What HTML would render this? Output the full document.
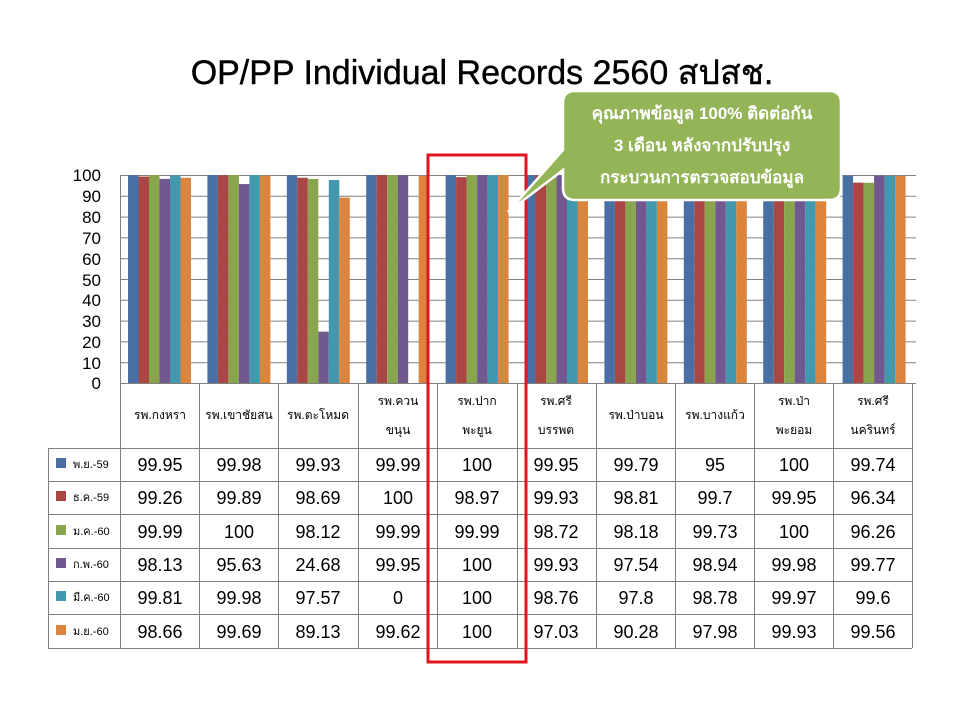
<!DOCTYPE html>
<html><head><meta charset="utf-8"><style>
html,body{margin:0;padding:0;background:#fff;}
svg{display:block;font-family:"Liberation Sans","DejaVu Sans",sans-serif;}
</style></head><body>
<svg width="960" height="720" viewBox="0 0 960 720" xmlns="http://www.w3.org/2000/svg">
<rect width="960" height="720" fill="#fff"/>
<text x="482" y="84" font-size="34" text-anchor="middle" fill="#000" stroke="#000" stroke-width="0.4">OP/PP Individual Records 2560 สปสช.</text>
<g stroke="#808080" stroke-width="1">
<line x1="120" y1="175.5" x2="916" y2="175.5"/>
<line x1="120" y1="196.3" x2="916" y2="196.3"/>
<line x1="120" y1="217.1" x2="916" y2="217.1"/>
<line x1="120" y1="237.9" x2="916" y2="237.9"/>
<line x1="120" y1="258.7" x2="916" y2="258.7"/>
<line x1="120" y1="279.5" x2="916" y2="279.5"/>
<line x1="120" y1="300.3" x2="916" y2="300.3"/>
<line x1="120" y1="321.1" x2="916" y2="321.1"/>
<line x1="120" y1="341.9" x2="916" y2="341.9"/>
<line x1="120" y1="362.7" x2="916" y2="362.7"/>
<line x1="120.5" y1="175" x2="120.5" y2="383"/>
</g>
<g font-size="17" text-anchor="end" fill="#000">
<text x="101" y="181">100</text><text x="101" y="202">90</text><text x="101" y="223">80</text><text x="101" y="244">70</text><text x="101" y="265">60</text><text x="101" y="286">50</text><text x="101" y="306">40</text><text x="101" y="327">30</text><text x="101" y="348">20</text><text x="101" y="369">10</text><text x="101" y="389">0</text>
</g>
<g transform="translate(0,383) scale(1,-2.08)">
<g transform="translate(120,0)"><rect x="8" width="10.5" height="99.95" fill="#4A6FA5"/><rect x="18.5" width="10.5" height="99.26" fill="#AA4643"/><rect x="29" width="10.5" height="99.99" fill="#89A54E"/><rect x="39.5" width="10.5" height="98.13" fill="#71588F"/><rect x="50" width="10.5" height="99.81" fill="#4198AF"/><rect x="60.5" width="10.5" height="98.66" fill="#DB843D"/></g>
<g transform="translate(199.4,0)"><rect x="8" width="10.5" height="99.98" fill="#4A6FA5"/><rect x="18.5" width="10.5" height="99.89" fill="#AA4643"/><rect x="29" width="10.5" height="100" fill="#89A54E"/><rect x="39.5" width="10.5" height="95.63" fill="#71588F"/><rect x="50" width="10.5" height="99.98" fill="#4198AF"/><rect x="60.5" width="10.5" height="99.69" fill="#DB843D"/></g>
<g transform="translate(278.8,0)"><rect x="8" width="10.5" height="99.93" fill="#4A6FA5"/><rect x="18.5" width="10.5" height="98.69" fill="#AA4643"/><rect x="29" width="10.5" height="98.12" fill="#89A54E"/><rect x="39.5" width="10.5" height="24.68" fill="#71588F"/><rect x="50" width="10.5" height="97.57" fill="#4198AF"/><rect x="60.5" width="10.5" height="89.13" fill="#DB843D"/></g>
<g transform="translate(358.2,0)"><rect x="8" width="10.5" height="99.99" fill="#4A6FA5"/><rect x="18.5" width="10.5" height="100" fill="#AA4643"/><rect x="29" width="10.5" height="99.99" fill="#89A54E"/><rect x="39.5" width="10.5" height="99.95" fill="#71588F"/><rect x="60.5" width="10.5" height="99.62" fill="#DB843D"/></g>
<g transform="translate(437.6,0)"><rect x="8" width="10.5" height="100" fill="#4A6FA5"/><rect x="18.5" width="10.5" height="98.97" fill="#AA4643"/><rect x="29" width="10.5" height="99.99" fill="#89A54E"/><rect x="39.5" width="10.5" height="100" fill="#71588F"/><rect x="50" width="10.5" height="100" fill="#4198AF"/><rect x="60.5" width="10.5" height="100" fill="#DB843D"/></g>
<g transform="translate(517,0)"><rect x="8" width="10.5" height="99.95" fill="#4A6FA5"/><rect x="18.5" width="10.5" height="99.93" fill="#AA4643"/><rect x="29" width="10.5" height="98.72" fill="#89A54E"/><rect x="39.5" width="10.5" height="99.93" fill="#71588F"/><rect x="50" width="10.5" height="98.76" fill="#4198AF"/><rect x="60.5" width="10.5" height="97.03" fill="#DB843D"/></g>
<g transform="translate(596.4,0)"><rect x="8" width="10.5" height="99.79" fill="#4A6FA5"/><rect x="18.5" width="10.5" height="98.81" fill="#AA4643"/><rect x="29" width="10.5" height="98.18" fill="#89A54E"/><rect x="39.5" width="10.5" height="97.54" fill="#71588F"/><rect x="50" width="10.5" height="97.8" fill="#4198AF"/><rect x="60.5" width="10.5" height="90.28" fill="#DB843D"/></g>
<g transform="translate(675.8,0)"><rect x="8" width="10.5" height="95" fill="#4A6FA5"/><rect x="18.5" width="10.5" height="99.7" fill="#AA4643"/><rect x="29" width="10.5" height="99.73" fill="#89A54E"/><rect x="39.5" width="10.5" height="98.94" fill="#71588F"/><rect x="50" width="10.5" height="98.78" fill="#4198AF"/><rect x="60.5" width="10.5" height="97.98" fill="#DB843D"/></g>
<g transform="translate(755.2,0)"><rect x="8" width="10.5" height="100" fill="#4A6FA5"/><rect x="18.5" width="10.5" height="99.95" fill="#AA4643"/><rect x="29" width="10.5" height="100" fill="#89A54E"/><rect x="39.5" width="10.5" height="99.98" fill="#71588F"/><rect x="50" width="10.5" height="99.97" fill="#4198AF"/><rect x="60.5" width="10.5" height="99.93" fill="#DB843D"/></g>
<g transform="translate(834.6,0)"><rect x="8" width="10.5" height="99.74" fill="#4A6FA5"/><rect x="18.5" width="10.5" height="96.34" fill="#AA4643"/><rect x="29" width="10.5" height="96.26" fill="#89A54E"/><rect x="39.5" width="10.5" height="99.77" fill="#71588F"/><rect x="50" width="10.5" height="99.6" fill="#4198AF"/><rect x="60.5" width="10.5" height="99.56" fill="#DB843D"/></g>
</g>
<g stroke="#808080" stroke-width="1" fill="none">
<line x1="120" y1="383.5" x2="916" y2="383.5"/>
<line x1="48" y1="448.5" x2="912" y2="448.5"/>
<line x1="48" y1="481.5" x2="912" y2="481.5"/>
<line x1="48" y1="514.5" x2="912" y2="514.5"/>
<line x1="48" y1="548.5" x2="912" y2="548.5"/>
<line x1="48" y1="581.5" x2="912" y2="581.5"/>
<line x1="48" y1="614.5" x2="912" y2="614.5"/>
<line x1="48" y1="648.5" x2="912" y2="648.5"/>
<line x1="48.5" y1="448" x2="48.5" y2="648"/>
<line x1="120.5" y1="383" x2="120.5" y2="648"/>
<line x1="199.5" y1="383" x2="199.5" y2="648"/>
<line x1="278.5" y1="383" x2="278.5" y2="648"/>
<line x1="358.5" y1="383" x2="358.5" y2="648"/>
<line x1="437.5" y1="383" x2="437.5" y2="648"/>
<line x1="517.5" y1="383" x2="517.5" y2="648"/>
<line x1="596.5" y1="383" x2="596.5" y2="648"/>
<line x1="675.5" y1="383" x2="675.5" y2="648"/>
<line x1="754.5" y1="383" x2="754.5" y2="648"/>
<line x1="833.5" y1="383" x2="833.5" y2="648"/>
<line x1="912.5" y1="383" x2="912.5" y2="648"/>
</g>
<g font-size="12" text-anchor="middle" fill="#000">
<text x="160" y="419">รพ.กงหรา</text>
<text x="239" y="419">รพ.เขาชัยสน</text>
<text x="318" y="419">รพ.ตะโหมด</text>
<text x="398" y="405">รพ.ควน</text><text x="398" y="434">ขนุน</text>
<text x="477" y="405">รพ.ปาก</text><text x="477" y="434">พะยูน</text>
<text x="556" y="405">รพ.ศรี</text><text x="556" y="434">บรรพต</text>
<text x="636" y="419">รพ.ป่าบอน</text>
<text x="715" y="419">รพ.บางแก้ว</text>
<text x="794" y="405">รพ.ป่า</text><text x="794" y="434">พะยอม</text>
<text x="873" y="405">รพ.ศรี</text><text x="873" y="434">นครินทร์</text>
</g>
<g font-size="11" fill="#000">
<rect x="56" y="458" width="10" height="10" fill="#4A6FA5"/><text x="73" y="468">พ.ย.-59</text>
<rect x="56" y="491" width="10" height="10" fill="#AA4643"/><text x="73" y="501">ธ.ค.-59</text>
<rect x="56" y="525" width="10" height="10" fill="#89A54E"/><text x="73" y="535">ม.ค.-60</text>
<rect x="56" y="558" width="10" height="10" fill="#71588F"/><text x="73" y="568">ก.พ.-60</text>
<rect x="56" y="591" width="10" height="10" fill="#4198AF"/><text x="73" y="601">มี.ค.-60</text>
<rect x="56" y="625" width="10" height="10" fill="#DB843D"/><text x="73" y="635">ม.ย.-60</text>
</g>
<g font-size="18" text-anchor="middle" fill="#000">
<text y="471"><tspan x="160">99.95</tspan><tspan x="239">99.98</tspan><tspan x="318">99.93</tspan><tspan x="398">99.99</tspan><tspan x="477">100</tspan><tspan x="556">99.95</tspan><tspan x="636">99.79</tspan><tspan x="715">95</tspan><tspan x="794">100</tspan><tspan x="873">99.74</tspan></text>
<text y="504"><tspan x="160">99.26</tspan><tspan x="239">99.89</tspan><tspan x="318">98.69</tspan><tspan x="398">100</tspan><tspan x="477">98.97</tspan><tspan x="556">99.93</tspan><tspan x="636">98.81</tspan><tspan x="715">99.7</tspan><tspan x="794">99.95</tspan><tspan x="873">96.34</tspan></text>
<text y="538"><tspan x="160">99.99</tspan><tspan x="239">100</tspan><tspan x="318">98.12</tspan><tspan x="398">99.99</tspan><tspan x="477">99.99</tspan><tspan x="556">98.72</tspan><tspan x="636">98.18</tspan><tspan x="715">99.73</tspan><tspan x="794">100</tspan><tspan x="873">96.26</tspan></text>
<text y="571"><tspan x="160">98.13</tspan><tspan x="239">95.63</tspan><tspan x="318">24.68</tspan><tspan x="398">99.95</tspan><tspan x="477">100</tspan><tspan x="556">99.93</tspan><tspan x="636">97.54</tspan><tspan x="715">98.94</tspan><tspan x="794">99.98</tspan><tspan x="873">99.77</tspan></text>
<text y="604"><tspan x="160">99.81</tspan><tspan x="239">99.98</tspan><tspan x="318">97.57</tspan><tspan x="398">0</tspan><tspan x="477">100</tspan><tspan x="556">98.76</tspan><tspan x="636">97.8</tspan><tspan x="715">98.78</tspan><tspan x="794">99.97</tspan><tspan x="873">99.6</tspan></text>
<text y="638"><tspan x="160">98.66</tspan><tspan x="239">99.69</tspan><tspan x="318">89.13</tspan><tspan x="398">99.62</tspan><tspan x="477">100</tspan><tspan x="556">97.03</tspan><tspan x="636">90.28</tspan><tspan x="715">97.98</tspan><tspan x="794">99.93</tspan><tspan x="873">99.56</tspan></text>
</g>
<rect x="428" y="155" width="98" height="507" fill="none" stroke="#E0141E" stroke-width="3"/>
<path d="M575,91 H829 Q841,91 841,103 V188 Q841,200 829,200 H575 Q563,200 563,188 V170 L508,212 L563,150 V103 Q563,91 575,91 Z" fill="#93B557" stroke="#fff" stroke-width="2.5"/>
<g font-size="17" font-weight="bold" text-anchor="middle" fill="#fff">
<text x="702" y="119">คุณภาพข้อมูล 100% ติดต่อกัน</text>
<text x="702" y="151">3 เดือน หลังจากปรับปรุง</text>
<text x="702" y="183">กระบวนการตรวจสอบข้อมูล</text>
</g>
</svg>
</body></html>
